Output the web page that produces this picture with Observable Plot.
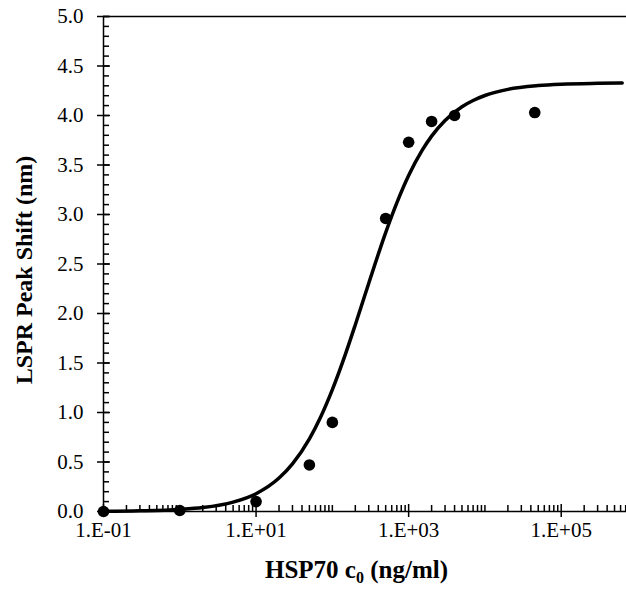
<!DOCTYPE html>
<html><head><meta charset="utf-8">
<script src="https://cdn.jsdelivr.net/npm/d3@7"></script>
<script src="https://cdn.jsdelivr.net/npm/@observablehq/plot@0.6"></script>
<style>
body{margin:0;background:#fff;font-family:"Liberation Serif";position:relative;width:626px;height:589px;overflow:hidden;}
svg text{font-family:"Liberation Serif" !important;}
#xt{position:absolute;top:557px;left:103px;width:507px;text-align:center;font-family:"Liberation Serif";font-weight:bold;font-size:25px;line-height:25px;color:#000;}
#xt sub{font-size:16px;vertical-align:-5px;line-height:0;}
</style></head><body><div id="chart"></div><div id="xt">HSP70 c<sub>0</sub> (ng/ml)</div>
<script>
// measured points
const conc = [0.1, 1, 10, 50, 100, 500, 1000, 2000, 4000, 45000];
const shift = [0.0, 0.01, 0.10, 0.47, 0.90, 2.96, 3.73, 3.94, 4.00, 4.03];
// fitted curve
const fitConc = [0.1, 0.3, 1, 2, 5, 10, 20, 30, 50, 70, 100, 150, 200, 300, 500, 700, 1000, 1500, 2000, 3000, 5000, 7000, 10000, 20000, 50000, 100000, 300000, 630000];
const fitShift = [0.002, 0.007, 0.021, 0.040, 0.095, 0.180, 0.338, 0.481, 0.734, 0.952, 1.231, 1.600, 1.887, 2.306, 2.817, 3.117, 3.393, 3.647, 3.792, 3.950, 4.089, 4.152, 4.202, 4.264, 4.302, 4.316, 4.325, 4.328];
// axis ticks
const xMajorTicks = [0.1, 10, 1000, 100000];
const xTickLabels = ["1.E-01", "1.E+01", "1.E+03", "1.E+05"];
const yMajorTicks = [0, 0.5, 1, 1.5, 2, 2.5, 3, 3.5, 4, 4.5, 5];
const yTickLabels = ["0.0", "0.5", "1.0", "1.5", "2.0", "2.5", "3.0", "3.5", "4.0", "4.5", "5.0"];

const points = conc.map((c, i) => ({c, s: shift[i]}));
const fit = fitConc.map((c, i) => ({c, s: fitShift[i]}));
const xLab = new Map(xMajorTicks.map((d, i) => [d, xTickLabels[i]]));
const yLab = new Map(yMajorTicks.map((d, i) => [d, yTickLabels[i]]));

const xMinor = [];
for (let k = -1; k <= 5; k++) for (let m = 1; m <= 9; m++) {
  const v = +(m * Math.pow(10, k)).toPrecision(3);
  if (!xMajorTicks.includes(v)) xMinor.push(v);
}
const yMinor = d3.range(0, 51).map(i => i / 10);

const FF = "Liberation Serif";
const W = 626, H = 550;
const chart = Plot.plot({
  width: W, height: H,
  marginLeft: 103, marginRight: -11, marginTop: 16, marginBottom: H - 511,
  style: {fontFamily: FF, fontSize: "21px", color: "#000", background: "#fff", overflow: "visible"},
  x: {type: "log", domain: [0.1, 1e6]},
  y: {domain: [0, 5]},
  marks: [
    Plot.axisY(yMinor, {tickSize: -6, text: null, strokeWidth: 1.5, label: null}),
    Plot.axisY(yMajorTicks, {tickSize: -7, text: null, strokeWidth: 1.5, label: null}),
    Plot.axisY(yMajorTicks, {tickSize: 6, tickPadding: 14, strokeWidth: 1.5, tickFormat: d => yLab.get(d), label: null, fontSize: 21, fontFamily: FF}),
    Plot.axisX(xMinor, {tickSize: -6, text: null, strokeWidth: 1.5, label: null}),
    Plot.axisX(xMajorTicks, {tickSize: -7, text: null, strokeWidth: 1.5, label: null}),
    Plot.axisX(xMajorTicks, {tickSize: 6, tickPadding: 5, strokeWidth: 1.5, tickFormat: d => xLab.get(d), label: null, fontSize: 21, fontFamily: FF}),
    Plot.ruleY([0], {stroke: "#000", strokeWidth: 1.5}),
    Plot.ruleY([5], {stroke: "#000", strokeWidth: 1.5}),
    Plot.ruleX([0.1], {stroke: "#000", strokeWidth: 1.5}),
    Plot.text(["LSPR Peak Shift (nm)"], {text: d => d, frameAnchor: "left", textAnchor: "middle", rotate: -90, dx: -79, dy: 6, fontWeight: "bold", fontSize: 24, fontFamily: FF, fill: "#000"}),
    Plot.line(fit, {x: "c", y: "s", stroke: "#000", strokeWidth: 3.5, curve: "monotone-x"}),
    Plot.dot(points, {x: "c", y: "s", r: 5.8, fill: "#000", stroke: "none"})
  ]
});
document.getElementById("chart").append(chart);
</script>
</body></html>
